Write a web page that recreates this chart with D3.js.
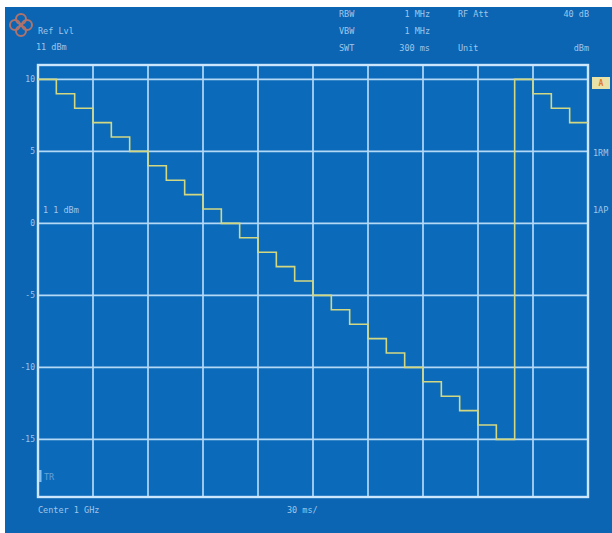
<!DOCTYPE html>
<html>
<head>
<meta charset="utf-8">
<script src="https://cdn.jsdelivr.net/npm/d3@7"></script>
<style>
  html, body { margin: 0; padding: 0; background: #fff; }
  svg text { font-family: "DejaVu Sans Mono", monospace; }
</style>
</head>
<body>
<div id="chart"></div>
<script>
// trace level per sweep step (dB), one value per third of a division
const levels = [10, 9, 8, 7, 6, 5, 4, 3, 2, 1, 0, -1, -2, -3, -4, -5, -6, -7, -8, -9, -10, -11, -12, -13, -14, -15, 10, 9, 8, 7];
const yTicks = [10, 5, 0, -5, -10, -15];
const yTickLabels = ["10", "5", "0", "-5", "-10", "-15"];
const xDivisions = [0, 1, 2, 3, 4, 5, 6, 7, 8, 9, 10];
const headerLeft = ["Ref Lvl", " 11 dBm"];
const headerKeys = ["RBW", "VBW", "SWT"];
const headerVals = ["1 MHz", "1 MHz", "300 ms"];
const headerRight = ["RF Att", "", "Unit"];
const headerFar = ["40 dB", "", "dBm"];
const rightLabels = ["1RM", "1AP"];
const footer = ["Center 1 GHz", "30 ms/"];

const W = 612, H = 533;
const plot = { left: 38, right: 588, top: 65, bottom: 497 };

const BG = "#0b65b3";
const GRID = "#b4d9f6";
const TEXT = "#9fc6ea";
const TRACE = "#d2d882";

const svg = d3.select("#chart").append("svg")
	.attr("width", W)
	.attr("height", H);

svg.append("rect")
	.attr("x", 5).attr("y", 7)
	.attr("width", W - 5).attr("height", H - 7)
	.attr("fill", BG);

svg.append("rect")
	.attr("x", plot.left).attr("y", plot.top)
	.attr("width", plot.right - plot.left).attr("height", plot.bottom - plot.top)
	.attr("fill", "#0c6abb");

const x = d3.scaleLinear().domain([0, 10]).range([plot.left, plot.right]);
const xs = d3.scaleLinear().domain([0, levels.length]).range([plot.left, plot.right]);
const y = d3.scaleLinear().domain([-19, 11]).range([plot.bottom, plot.top]);

// grid
svg.append("g")
	.selectAll("line")
	.data(xDivisions.slice(1, -1))
	.enter()
	.append("line")
	.attr("x1", d => x(d)).attr("x2", d => x(d))
	.attr("y1", plot.top).attr("y2", plot.bottom)
	.attr("stroke", GRID)
	.attr("stroke-width", 1.7);

svg.append("g")
	.selectAll("line")
	.data(yTicks)
	.enter()
	.append("line")
	.attr("x1", plot.left).attr("x2", plot.right)
	.attr("y1", d => y(d)).attr("y2", d => y(d))
	.attr("stroke", GRID)
	.attr("stroke-width", 1.7);

svg.append("rect")
	.attr("x", plot.left).attr("y", plot.top)
	.attr("width", plot.right - plot.left).attr("height", plot.bottom - plot.top)
	.attr("fill", "none")
	.attr("stroke", "#cce6fb")
	.attr("stroke-width", 2.4);

// y labels
svg.append("g")
	.selectAll("text")
	.data(yTicks)
	.enter()
	.append("text")
	.attr("x", plot.left - 3)
	.attr("y", d => y(d) + 3)
	.attr("text-anchor", "end")
	.attr("font-size", 8)
	.attr("fill", TEXT)
	.text((d, i) => yTickLabels[i]);

// trace
const pts = levels.map((v, i) => [i, v]);
pts.push([levels.length, levels[levels.length - 1]]);

svg.append("path")
	.datum(pts)
	.attr("fill", "none")
	.attr("stroke", TRACE)
	.attr("stroke-width", 1.6)
	.attr("d", d3.line()
		.x(d => xs(d[0]))
		.y(d => y(d[1]))
		.curve(d3.curveStepAfter));

// header
const small = (t, px, py, anchor) => svg.append("text")
	.attr("x", px).attr("y", py)
	.attr("text-anchor", anchor || "start")
	.attr("font-size", 8.5)
	.attr("fill", TEXT)
	.text(t);

small(headerLeft[0], 38, 34);
small(headerLeft[1], 36, 50);
headerKeys.forEach((k, i) => {
	small(k, 339, 17 + i * 17);
	small(headerVals[i], 430, 17 + i * 17, "end");
	if (headerRight[i]) small(headerRight[i], 458, 17 + i * 17);
	if (headerFar[i]) small(headerFar[i], 589, 17 + i * 17, "end");
});

// right side labels and marker box
rightLabels.forEach((t, i) => small(t, 593, 156 + i * 57));
svg.append("rect")
	.attr("x", 592).attr("y", 77)
	.attr("width", 18).attr("height", 12)
	.attr("fill", "#e9e2a8");
svg.append("text")
	.attr("x", 601).attr("y", 86)
	.attr("text-anchor", "middle")
	.attr("font-size", 8)
	.attr("font-weight", "bold")
	.attr("fill", "#e07a2a")
	.text("A");

// inside labels
small("1 1 dBm", 43, 213);
svg.append("rect")
	.attr("x", 39).attr("y", 470)
	.attr("width", 2.5).attr("height", 12)
	.attr("fill", "#7ec0f5");
small("TR", 44, 480).attr("opacity", 0.6);

// footer
small(footer[0], 38, 513);
small(footer[1], 287, 513);

// logo
const logo = svg.append("g")
	.attr("transform", "translate(21,25)")
	.attr("fill", "none")
	.attr("stroke", "#d9775a")
	.attr("stroke-width", 2)
	.attr("opacity", 0.8);
[[0, -6], [6, 0], [0, 6], [-6, 0]].forEach(p => {
	logo.append("circle").attr("cx", p[0]).attr("cy", p[1]).attr("r", 5);
});
</script>
</body>
</html>
